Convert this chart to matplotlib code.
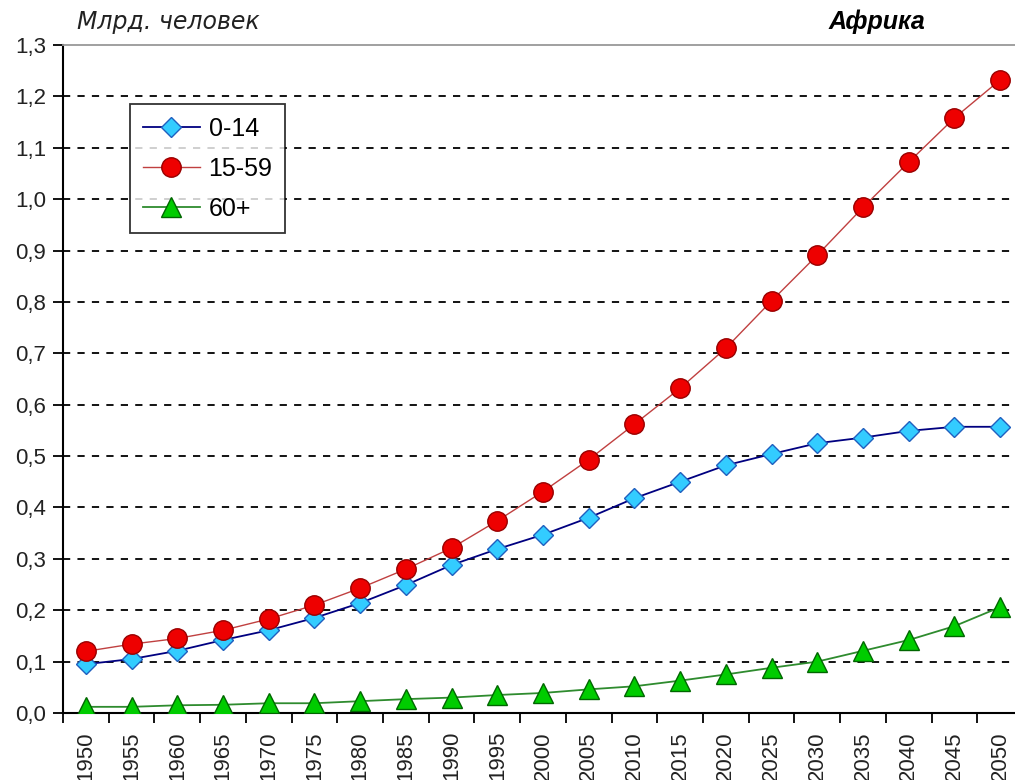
import matplotlib
matplotlib.use("Agg")
import matplotlib.pyplot as plt
from matplotlib.ticker import FixedLocator, FuncFormatter

years = [1950, 1955, 1960, 1965, 1970, 1975, 1980, 1985, 1990, 1995, 2000,
         2005, 2010, 2015, 2020, 2025, 2030, 2035, 2040, 2045, 2050]
age_0_14 = [0.095, 0.105, 0.121, 0.142, 0.161, 0.185, 0.214, 0.249, 0.288, 0.319, 0.347,
            0.380, 0.418, 0.450, 0.482, 0.504, 0.525, 0.536, 0.549, 0.557, 0.557]
age_15_59 = [0.120, 0.134, 0.145, 0.161, 0.183, 0.210, 0.243, 0.280, 0.321, 0.374, 0.431,
             0.493, 0.562, 0.632, 0.710, 0.802, 0.891, 0.984, 1.072, 1.158, 1.232]
age_60 = [0.012, 0.012, 0.015, 0.016, 0.019, 0.019, 0.023, 0.027, 0.030, 0.035, 0.039,
          0.046, 0.052, 0.063, 0.075, 0.088, 0.100, 0.121, 0.142, 0.169, 0.206]
labels = ["0-14", "15-59", "60+"]
yticks = [0.0, 0.1, 0.2, 0.3, 0.4, 0.5, 0.6, 0.7, 0.8, 0.9, 1.0, 1.1, 1.2, 1.3]

plt.rcParams['font.family'] = ['Liberation Sans', 'DejaVu Sans']

fig = plt.figure(figsize=(10.15, 7.8), dpi=100)
ax = fig.add_axes([63/1015, 1-713/780, (1023-63)/1015, (713-45)/780])

x = list(range(len(years)))
ax.plot(x, age_0_14, color='#000080', lw=1.3, marker='D', ms=10,
        mfc='#33CCFF', mec='#1f5fbf', mew=1.0, label=labels[0], zorder=3)
ax.plot(x, age_15_59, color='#c04040', lw=1.0, marker='o', ms=14,
        mfc='#EE0000', mec='#990000', mew=1.0, label=labels[1], zorder=4)
ax.plot(x, age_60, color='#2e8b2e', lw=1.3, marker='^', ms=14,
        mfc='#00CC00', mec='#006600', mew=1.0, label=labels[2], zorder=3)

ax.set_xlim(-0.5, len(years) - 0.5)
ax.set_ylim(0, 1.3)
ax.set_yticks(yticks)
ax.yaxis.set_major_formatter(FuncFormatter(lambda v, p: f"{v:.1f}".replace('.', ',')))
for v in yticks[1:-1]:
    ax.axhline(v, color='black', lw=1.3, ls=(0, (4, 4)), zorder=1)

ax.set_xticks(x)
ax.set_xticklabels([str(y) for y in years], rotation=90)
ax.xaxis.set_minor_locator(FixedLocator([i - 0.5 for i in range(len(years) + 1)]))
ax.tick_params(axis='x', which='major', length=0, pad=13, labelsize=16, colors='#222222')
ax.tick_params(axis='x', which='minor', length=7, width=1.3, direction='out', color='black')
ax.tick_params(axis='y', which='major', length=7, width=1.3, direction='out',
               labelsize=16, pad=5, labelcolor='#222222')

for s in ['left', 'bottom']:
    ax.spines[s].set_color('black')
    ax.spines[s].set_linewidth(1.5)
ax.spines['top'].set_color('#999999')
ax.spines['top'].set_linewidth(1.3)
ax.spines['right'].set_visible(False)

leg = ax.legend(loc='upper left', bbox_to_anchor=((130-63)/960, (713-104)/668),
                fontsize=18, frameon=True, fancybox=False, edgecolor='black',
                borderpad=0.5, labelspacing=0.64, handlelength=2.28, handletextpad=0.36,
                borderaxespad=0)
leg.get_frame().set_linewidth(1.3)

fig.text(77/1015, 1-22/780, "Млрд. человек", fontsize=17, style='italic',
         family='DejaVu Sans', va='center', ha='left', color='#222222')
fig.text(877/1015, 1-22/780, "Африка", fontsize=18, style='italic', weight='bold',
         va='center', ha='center', color='black')

fig.savefig("out.png", dpi=100)
